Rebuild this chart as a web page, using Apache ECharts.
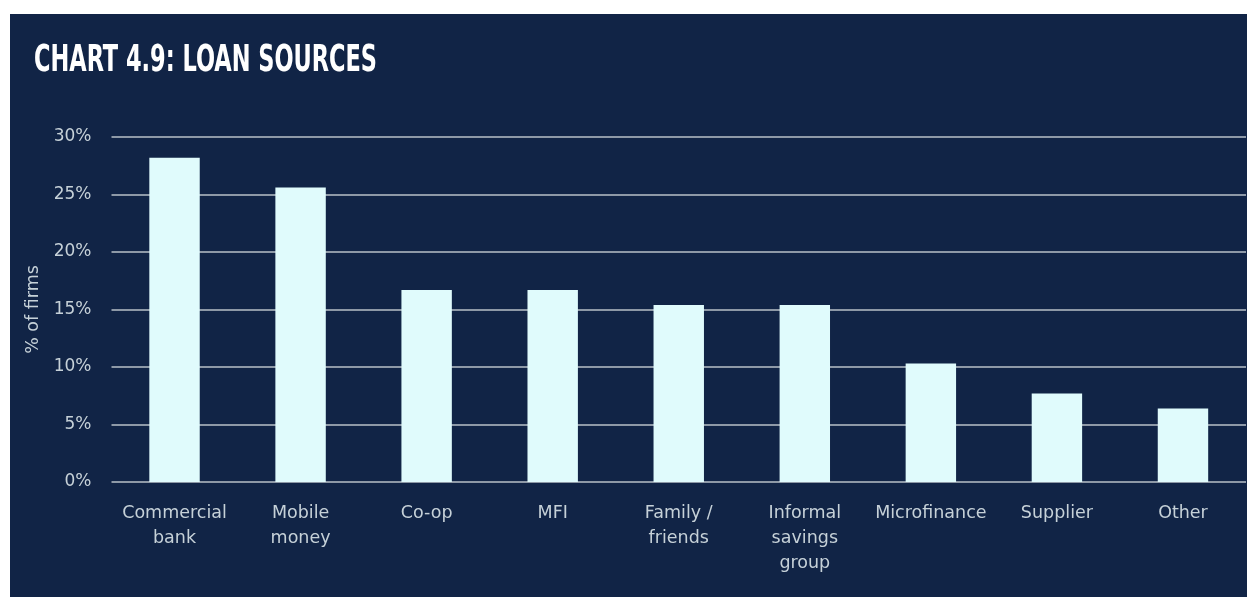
<!DOCTYPE html>
<html>
<head>
<meta charset="utf-8">
<script src="https://cdn.jsdelivr.net/npm/echarts@6/dist/echarts.min.js"></script>
<style>
  html, body { margin: 0; padding: 0; background: #ffffff; width: 1247px; height: 597px; overflow: hidden; }
  #chart { position: absolute; left: 10px; top: 14px; width: 1237px; height: 583px; }
</style>
</head>
<body>
<div id="chart"></div>
<script>
// Loan sources, share of firms using each source (%)
const categories = ['Commercial\nbank', 'Mobile\nmoney', 'Co-op', 'MFI', 'Family /\nfriends', 'Informal\nsavings\ngroup', 'Microfinance', 'Supplier', 'Other'];
const shareOfFirms = [28.2, 25.6, 16.7, 16.7, 15.4, 15.4, 10.3, 7.7, 6.4];
const yTicks = [0, 5, 10, 15, 20, 25, 30];
const titleText = 'CHART 4.9: LOAN SOURCES';

const labelColor = '#c6d1d8';
const labelFont = 'DejaVu Sans';

// Condensed headline: squeeze a bold face horizontally to a fixed width
const titleFont = 'bold 37px "DejaVu Sans Condensed", "DejaVu Sans"';
const ctx = document.createElement('canvas').getContext('2d');
ctx.font = titleFont;
const titleScaleX = 343 / ctx.measureText(titleText).width;

const chart = echarts.init(document.getElementById('chart'), null, { renderer: 'canvas' });
chart.setOption({
  backgroundColor: '#112446',
  animation: false,
  graphic: [{
    type: 'text',
    left: 24,
    top: 29,
    scaleX: titleScaleX,
    style: {
      text: titleText,
      fill: '#ffffff',
      font: titleFont
    }
  }],
  grid: { left: 101.5, right: 1, top: 123, bottom: 115, containLabel: false },
  xAxis: {
    type: 'category',
    data: categories,
    axisLine: { show: false },
    axisTick: { show: false },
    axisLabel: {
      color: labelColor,
      fontFamily: labelFont,
      fontSize: 17.5,
      lineHeight: 25,
      margin: 19,
      interval: 0
    }
  },
  yAxis: {
    type: 'value',
    min: yTicks[0],
    max: yTicks[yTicks.length - 1],
    interval: 5,
    name: '% of firms',
    nameLocation: 'middle',
    nameGap: 66,
    nameTextStyle: { color: labelColor, fontFamily: labelFont, fontSize: 17.5 },
    axisLine: { show: false },
    axisTick: { show: false },
    axisLabel: {
      color: labelColor,
      fontFamily: labelFont,
      fontSize: 17,
      margin: 20,
      formatter: v => v + '%'
    },
    splitLine: { lineStyle: { color: '#b9c0c8', width: 1.5 } }
  },
  series: [{
    type: 'bar',
    data: shareOfFirms,
    barWidth: '40%',
    itemStyle: { color: '#e0fbfc' }
  }]
});
</script>
</body>
</html>
